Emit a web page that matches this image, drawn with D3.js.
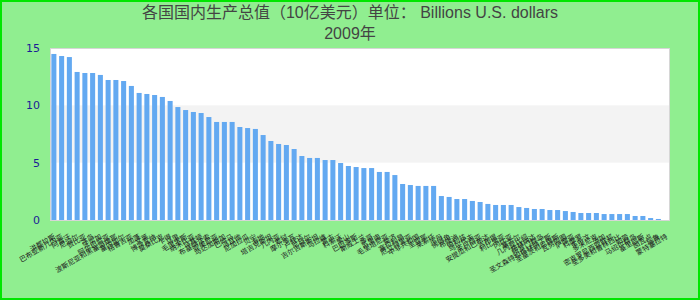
<!DOCTYPE html>
<html><head><meta charset="utf-8">
<script src="https://cdn.jsdelivr.net/npm/d3@7"></script>
<style>html,body{margin:0;padding:0;background:#90ee90;}svg{display:block;}</style>
</head><body>
<svg id="chart" width="700" height="300"></svg>
<script>
const titleLine1 = "各国国内生产总值（10亿美元）单位： Billions U.S. dollars";
const titleLine2 = "2009年";
const categories = ["洪都拉斯","巴布亚新几内亚","阿富汗","尼泊尔","赞比亚","冰岛","牙买加","阿尔巴尼亚","波斯尼亚和黑塞哥维那","塞内加尔","格鲁吉亚","加蓬","文莱","博茨瓦纳","莫桑比克","乍得","马里","毛里求斯","纳米比亚","马其顿","布基纳法索","亚美尼亚","马达加斯加","巴哈马","马耳他","尼加拉瓜","贝宁","海地","塔吉克斯坦","几内亚","老挝","摩尔多瓦","卢旺达","尼日尔","吉尔吉斯斯坦","马拉维","蒙古","科索沃","黑山","巴巴多斯","斯威士兰","多哥","苏里南","毛里塔尼亚","斐济","塞拉利昂","厄立特里亚","中非共和国","圭亚那","莱索托","不丹","佛得角","布隆迪","伯利兹","马尔代夫","圣卢西亚","安提瓜和巴布达","吉布提","利比里亚","冈比亚","塞舌尔","几内亚比绍","格林纳达","所罗门群岛","圣文森特和格林纳丁斯","圣基茨和尼维斯","瓦努阿图","萨摩亚","科摩罗","东帝汶","多米尼克","汤加","密克罗尼西亚联邦","圣多美和普林西比","帕劳","马绍尔群岛","基里巴斯","图瓦卢","瑙鲁","蒙特塞拉特"];
const values = [14.48,14.30,14.21,12.91,12.82,12.82,12.65,12.21,12.21,12.12,
  11.69,11.08,10.99,10.90,10.73,10.38,9.85,9.59,9.42,9.33,
  8.98,8.55,8.55,8.55,8.11,8.02,7.94,7.41,6.89,6.63,
  6.54,6.19,5.58,5.41,5.41,5.23,5.23,4.97,4.71,4.62,
  4.53,4.53,4.19,4.19,3.92,3.14,3.05,2.97,2.97,2.97,
  2.09,2.01,1.83,1.83,1.66,1.57,1.40,1.31,1.31,1.31,
  1.13,1.05,0.96,0.96,0.87,0.87,0.78,0.70,0.61,0.61,
  0.61,0.52,0.52,0.52,0.52,0.35,0.35,0.17,0.09,0];
const yTicks = [0, 5, 10, 15];
const bandRanges = [[5, 10]];

const svg = d3.select("#chart");
const W = 700, H = 300;
const plot = {left: 50, right: 670, top: 48, bottom: 220};

svg.append("rect").attr("x", 1).attr("y", 1).attr("width", W - 2).attr("height", H - 2)
  .attr("fill", "#90ee90").attr("stroke", "#00e600").attr("stroke-width", 2);

const x = d3.scaleBand().domain(d3.range(categories.length))
  .range([plot.left, plot.right]).paddingInner(0.35).paddingOuter(0.175);
const y = d3.scaleLinear().domain([0, 15]).range([plot.bottom, plot.top]);

svg.append("rect").attr("x", plot.left).attr("y", plot.top)
  .attr("width", plot.right - plot.left).attr("height", plot.bottom - plot.top)
  .attr("fill", "#ffffff");
svg.selectAll("rect.band").data(bandRanges).enter().append("rect")
  .attr("class", "band")
  .attr("x", plot.left).attr("width", plot.right - plot.left)
  .attr("y", d => y(d[1])).attr("height", d => y(d[0]) - y(d[1]))
  .attr("fill", "#f3f3f3");

svg.selectAll("rect.bar").data(values).enter().append("rect")
  .attr("class", "bar")
  .attr("x", (d, i) => x(i)).attr("width", x.bandwidth())
  .attr("y", d => y(d)).attr("height", d => y(0) - y(d))
  .attr("fill", "#63a9f1");

svg.append("rect").attr("x", plot.left + 0.5).attr("y", plot.top + 0.5)
  .attr("width", plot.right - plot.left - 1).attr("height", plot.bottom - plot.top)
  .attr("fill", "none").attr("stroke", "#d6d6d6").attr("stroke-width", 1);

const yAxis = svg.append("g").attr("transform", `translate(${plot.left - 10},0)`)
  .call(d3.axisLeft(y).tickValues(yTicks).tickSize(0).tickPadding(0).tickFormat(d3.format("d")));
yAxis.select(".domain").remove();
yAxis.selectAll("text").attr("fill", "#1c1c96")
  .style("font-family", "'DejaVu Sans', sans-serif").style("font-size", "11px");

const xAxis = svg.append("g").attr("transform", `translate(0,${plot.bottom + 1})`)
  .call(d3.axisBottom(x).tickSize(0).tickPadding(0).tickFormat(i => categories[i]));
xAxis.select(".domain").remove();
xAxis.selectAll("text")
  .attr("fill", "#222")
  .style("font-family", "'Noto Sans CJK SC', sans-serif").style("font-size", "7px")
  .attr("text-anchor", "end")
  .attr("dy", "0")
  .attr("y", 0)
  .attr("transform", "translate(2,17) rotate(-30)");

const title = svg.append("g").style("font-family", "'Liberation Sans', Arial, 'Noto Sans CJK SC', sans-serif")
  .style("font-size", "16px").attr("fill", "#444");
title.append("text").attr("x", W / 2).attr("y", 18).attr("text-anchor", "middle").text(titleLine1);
title.append("text").attr("x", W / 2).attr("y", 39).attr("text-anchor", "middle").text(titleLine2);
</script>
</body></html>
